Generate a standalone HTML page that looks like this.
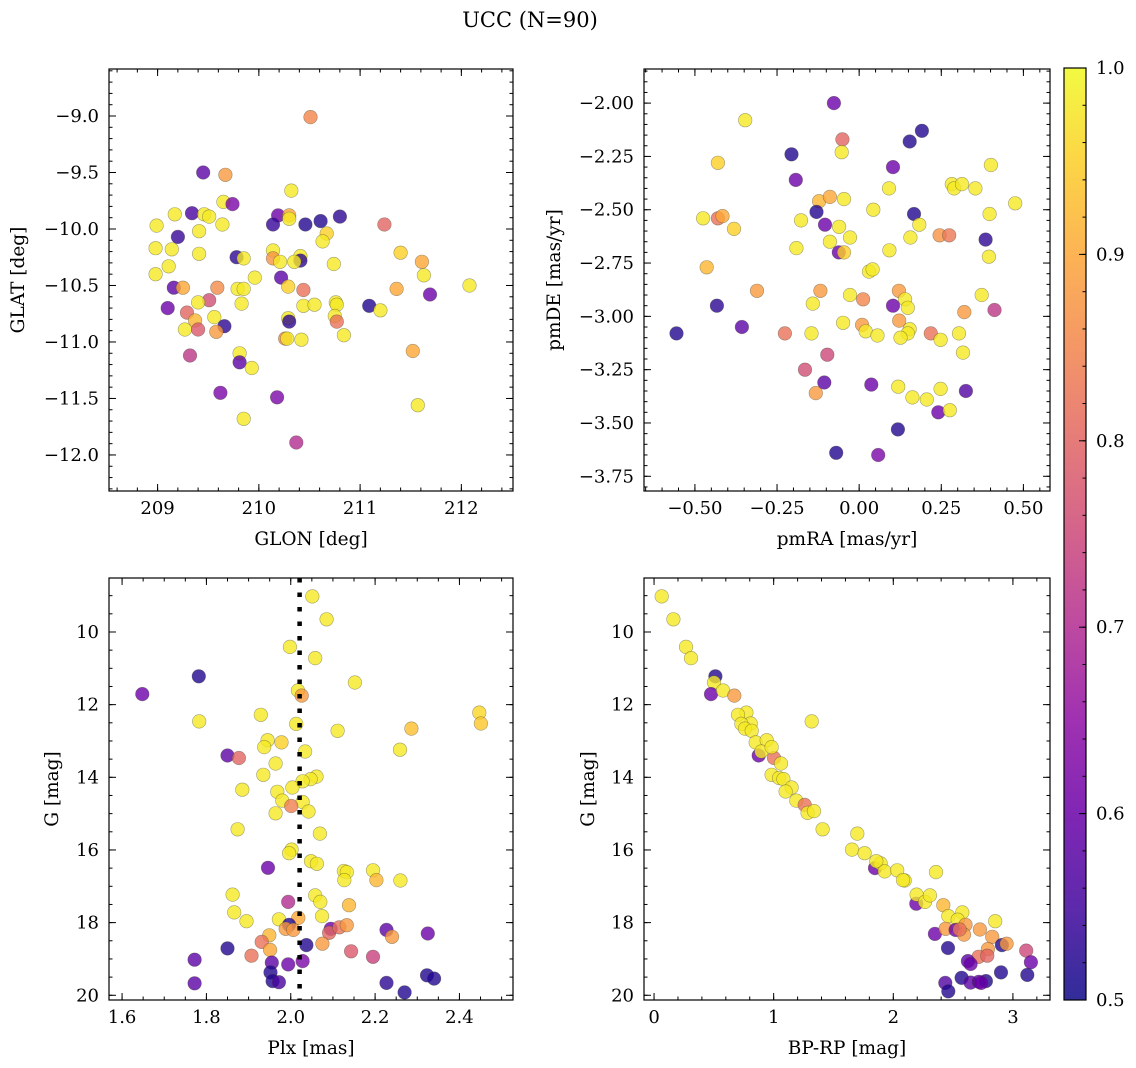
<!DOCTYPE html>
<html><head><meta charset="utf-8"><title>UCC (N=90)</title>
<style>
html,body{margin:0;padding:0;background:#fff;}
svg{display:block;font-family:"DejaVu Serif","Liberation Serif",serif;}
</style></head>
<body>
<svg id="fig" width="1136" height="1068" viewBox="0 0 1136 1068" xmlns="http://www.w3.org/2000/svg">
<defs>
<linearGradient id="plasma" x1="0" y1="1" x2="0" y2="0">
<stop offset="0" stop-color="#0d0887"/><stop offset="0.1" stop-color="#41049d"/><stop offset="0.2" stop-color="#6a00a8"/><stop offset="0.3" stop-color="#8f0da4"/><stop offset="0.4" stop-color="#b12a90"/><stop offset="0.5" stop-color="#cc4778"/><stop offset="0.6" stop-color="#e16462"/><stop offset="0.7" stop-color="#f2844b"/><stop offset="0.8" stop-color="#fca636"/><stop offset="0.9" stop-color="#fcce25"/><stop offset="1" stop-color="#f0f921"/>
</linearGradient>
</defs>
<text x="530" y="27" font-size="21" text-anchor="middle">UCC (N=90)</text>
</svg>
<script>
// Panel 1: GLON / GLAT / probability
const glon1=[210.51,209.45,209.67,210.32,209.65,209.74,209.17,209.34,209.46,209.51,210.19,210.30,210.30,210.14,210.46,210.61,210.80,211.24,208.99,209.64,209.41,210.67,209.20,210.63,208.98,209.14,210.14,211.40,209.41,209.78,209.85,210.14,210.21,210.41,210.41,210.35,211.61,210.74,209.11,208.98,211.63,209.96,210.22,209.16,209.25,209.59,209.79,209.85,210.29,210.44,212.08,211.36,211.69,209.51,209.40,209.83,210.44,210.55,210.76,210.77,211.09,211.20,209.10,209.29,209.56,209.37,210.29,210.30,210.75,210.77,209.66,209.27,209.40,209.58,210.84,210.26,210.28,210.42,211.52,209.32,209.81,209.81,209.93,209.62,210.18,211.57,209.85,210.37];
const glat1=[-9.01,-9.50,-9.52,-9.66,-9.76,-9.78,-9.87,-9.86,-9.87,-9.89,-9.88,-9.88,-9.91,-9.96,-9.96,-9.93,-9.89,-9.96,-9.97,-9.96,-10.02,-10.04,-10.07,-10.11,-10.17,-10.18,-10.19,-10.21,-10.22,-10.25,-10.26,-10.26,-10.29,-10.24,-10.28,-10.29,-10.29,-10.31,-10.33,-10.40,-10.41,-10.43,-10.43,-10.52,-10.52,-10.52,-10.53,-10.53,-10.51,-10.54,-10.50,-10.53,-10.58,-10.63,-10.65,-10.66,-10.68,-10.67,-10.65,-10.67,-10.68,-10.72,-10.70,-10.74,-10.78,-10.81,-10.79,-10.82,-10.77,-10.82,-10.86,-10.89,-10.89,-10.91,-10.94,-10.97,-10.97,-10.98,-11.08,-11.12,-11.10,-11.18,-11.23,-11.45,-11.49,-11.56,-11.68,-11.89];
const prob1=[0.85,0.58,0.88,0.98,0.98,0.62,0.98,0.56,0.98,0.98,0.60,0.90,0.98,0.54,0.52,0.52,0.53,0.80,0.98,0.98,0.98,0.95,0.54,0.98,0.98,0.98,0.98,0.95,0.98,0.53,0.98,0.87,0.98,0.98,0.53,0.98,0.90,0.98,0.98,0.98,0.98,0.98,0.58,0.58,0.90,0.86,0.98,0.98,0.95,0.82,0.98,0.90,0.60,0.76,0.98,0.98,0.98,0.98,0.98,0.98,0.52,0.98,0.60,0.80,0.98,0.92,0.98,0.53,0.98,0.82,0.53,0.98,0.78,0.88,0.98,0.85,0.98,0.98,0.90,0.72,0.98,0.58,0.98,0.62,0.62,0.98,0.98,0.70];
// Panel 2: pmRA / pmDE / probability
const pmra2=[-0.077,-0.347,-0.051,0.191,0.154,-0.053,-0.206,-0.430,0.103,0.401,-0.193,0.091,0.282,0.289,0.313,0.354,-0.122,-0.089,-0.046,0.043,0.475,-0.475,-0.430,-0.416,-0.130,-0.177,0.167,0.397,-0.104,-0.061,0.183,-0.381,0.156,0.245,0.274,0.385,-0.028,-0.089,-0.191,0.092,-0.062,-0.046,0.395,-0.464,0.030,0.041,-0.311,-0.118,0.121,-0.028,0.012,0.140,0.373,-0.141,0.103,0.148,0.412,-0.433,0.320,-0.357,-0.049,0.009,0.122,0.020,0.056,0.154,0.148,0.126,0.218,0.248,0.304,-0.556,-0.226,-0.145,0.316,-0.097,-0.165,-0.106,-0.132,0.037,0.119,0.162,0.206,0.248,0.325,0.241,0.276,0.118,-0.070,0.058];
const pmde2=[-2.00,-2.08,-2.17,-2.13,-2.18,-2.23,-2.24,-2.28,-2.30,-2.29,-2.36,-2.40,-2.38,-2.40,-2.38,-2.40,-2.46,-2.44,-2.45,-2.50,-2.47,-2.54,-2.54,-2.53,-2.51,-2.55,-2.52,-2.52,-2.57,-2.58,-2.57,-2.59,-2.63,-2.62,-2.62,-2.64,-2.63,-2.65,-2.68,-2.69,-2.70,-2.70,-2.72,-2.77,-2.79,-2.78,-2.88,-2.88,-2.88,-2.90,-2.92,-2.92,-2.90,-2.94,-2.95,-2.96,-2.97,-2.95,-2.98,-3.05,-3.03,-3.04,-3.02,-3.07,-3.09,-3.06,-3.08,-3.10,-3.08,-3.11,-3.08,-3.08,-3.08,-3.08,-3.17,-3.18,-3.25,-3.31,-3.36,-3.32,-3.33,-3.38,-3.39,-3.34,-3.35,-3.45,-3.44,-3.53,-3.64,-3.65];
const prob2=[0.60,0.98,0.80,0.52,0.52,0.98,0.52,0.95,0.60,0.98,0.60,0.98,0.98,0.98,0.98,0.98,0.92,0.90,0.98,0.98,0.98,0.98,0.82,0.90,0.52,0.98,0.52,0.98,0.60,0.98,0.98,0.95,0.98,0.87,0.83,0.53,0.98,0.98,0.98,0.98,0.60,0.95,0.98,0.92,0.98,0.98,0.88,0.88,0.88,0.98,0.85,0.98,0.98,0.98,0.60,0.98,0.72,0.53,0.88,0.58,0.98,0.88,0.88,0.98,0.98,0.98,0.98,0.98,0.82,0.98,0.98,0.52,0.82,0.98,0.98,0.75,0.76,0.58,0.88,0.60,0.98,0.98,0.98,0.98,0.57,0.60,0.98,0.52,0.52,0.62];
// Panel 3: Plx / G / probability
const plx3=[2.051,2.085,1.998,2.058,1.782,2.152,1.648,2.017,2.026,2.447,2.451,1.929,1.783,2.013,2.111,2.286,1.945,1.978,1.937,2.034,2.259,1.850,1.877,1.964,1.935,2.061,2.047,2.028,1.885,2.004,1.968,1.980,2.028,2.001,1.964,2.042,1.874,2.069,2.002,1.996,1.946,2.048,2.062,2.126,2.133,2.127,2.195,2.203,2.260,1.862,2.058,2.070,1.994,2.138,1.866,1.895,2.074,1.972,2.018,1.996,1.988,2.006,2.095,2.091,2.115,2.133,2.227,2.240,2.325,1.949,1.931,1.951,1.850,2.037,2.075,1.907,2.143,2.195,1.772,1.955,1.994,2.028,1.952,1.957,1.972,1.772,2.227,2.323,2.340,2.270];
const g3=[9.02,9.65,10.41,10.72,11.22,11.39,11.71,11.61,11.75,12.22,12.52,12.28,12.46,12.53,12.72,12.66,12.98,13.04,13.17,13.29,13.24,13.40,13.47,13.62,13.93,13.98,14.05,14.11,14.34,14.28,14.40,14.64,14.68,14.79,14.99,14.94,15.43,15.55,15.99,16.09,16.49,16.31,16.38,16.58,16.61,16.83,16.56,16.83,16.84,17.23,17.25,17.43,17.43,17.52,17.72,17.96,17.82,17.91,17.87,18.06,18.17,18.20,18.17,18.28,18.13,18.07,18.20,18.39,18.30,18.35,18.53,18.75,18.71,18.62,18.58,18.91,18.79,18.94,19.02,19.10,19.15,19.06,19.37,19.61,19.64,19.67,19.66,19.45,19.54,19.92];
const prob3=[0.98,0.98,0.98,0.98,0.52,0.98,0.60,0.98,0.88,0.96,0.94,0.98,0.98,0.98,0.98,0.93,0.98,0.95,0.98,0.98,0.98,0.58,0.80,0.98,0.98,0.98,0.98,0.98,0.98,0.98,0.98,0.98,0.98,0.84,0.98,0.98,0.98,0.98,0.98,0.98,0.60,0.98,0.98,0.98,0.98,0.98,0.98,0.92,0.98,0.98,0.98,0.98,0.70,0.92,0.98,0.98,0.98,0.98,0.90,0.52,0.88,0.88,0.60,0.80,0.82,0.88,0.58,0.88,0.60,0.92,0.82,0.90,0.52,0.52,0.88,0.82,0.78,0.74,0.58,0.58,0.60,0.62,0.52,0.52,0.56,0.58,0.53,0.52,0.52,0.52];
// Panel 4: BP-RP / G / probability
const bprp4=[0.064,0.162,0.267,0.309,0.513,0.501,0.476,0.577,0.671,1.318,0.772,0.702,0.808,0.730,0.760,0.816,0.850,0.942,0.875,1.003,0.897,0.983,1.061,0.983,1.045,1.081,1.150,1.100,1.189,1.259,1.284,1.337,1.409,1.699,1.655,1.760,1.847,1.894,1.858,1.928,2.033,2.095,2.081,2.357,2.192,2.195,2.265,2.306,2.418,2.460,2.577,2.538,2.348,2.437,2.521,2.604,2.591,2.554,2.852,2.724,2.827,2.908,2.947,2.457,2.791,2.713,2.786,2.624,2.646,3.111,3.150,2.900,3.120,2.571,2.435,2.646,2.716,2.774,2.460,2.735];
const g4=[9.02,9.65,10.41,10.72,11.22,11.39,11.71,11.61,11.75,12.46,12.22,12.28,12.52,12.53,12.66,12.72,13.04,12.98,13.40,13.47,13.29,13.17,13.62,13.93,14.02,14.05,14.28,14.39,14.64,14.76,14.98,14.93,15.43,15.55,15.99,16.09,16.50,16.37,16.31,16.59,16.56,16.84,16.83,16.61,17.48,17.23,17.43,17.25,17.52,17.82,17.72,17.92,18.31,18.17,18.20,18.06,18.33,18.19,17.96,18.19,18.39,18.62,18.58,18.70,18.73,18.94,18.91,19.06,19.14,18.77,19.09,19.37,19.44,19.52,19.66,19.65,19.63,19.61,19.89,19.66];
const prob4=[0.98,0.98,0.98,0.98,0.52,0.98,0.60,0.98,0.88,0.98,0.98,0.98,0.98,0.98,0.98,0.98,0.98,0.98,0.60,0.82,0.98,0.98,0.98,0.98,0.98,0.98,0.98,0.98,0.98,0.82,0.98,0.98,0.98,0.98,0.98,0.98,0.60,0.98,0.98,0.98,0.98,0.98,0.98,0.98,0.60,0.98,0.98,0.98,0.92,0.98,0.98,0.98,0.60,0.88,0.60,0.88,0.88,0.82,0.98,0.88,0.88,0.52,0.88,0.52,0.88,0.82,0.80,0.58,0.60,0.75,0.60,0.52,0.52,0.52,0.57,0.58,0.58,0.52,0.52,0.60];
const plxLine=[2.021];
const cbarTicks=[0.5,0.6,0.7,0.8,0.9,1.0];

const NS='http://www.w3.org/2000/svg';
const svg=document.getElementById('fig');
const stops=[[13,8,135],[65,4,157],[106,0,168],[143,13,164],[177,42,144],[204,71,120],[225,100,98],[242,132,75],[252,166,54],[252,206,37],[240,249,33]];
function plasma(p){let t=Math.max(0,Math.min(1,(p-0.5)/0.5))*10;let i=Math.min(9,Math.floor(t));let f=t-i;const a=stops[i],b=stops[i+1];return 'rgb('+a.map((v,k)=>Math.round(v+(b[k]-v)*f)).join(',')+')';}
function mk(tag,attrs,parent){const e=document.createElementNS(NS,tag);for(const k in attrs)e.setAttribute(k,attrs[k]);(parent||svg).appendChild(e);return e;}
function fmt(v,d){const s=Math.abs(v).toFixed(d);return (v< -1e-9?'\u2212':'')+s;}

function panel(cfg){
  const g=mk('g',{});
  
  
  const sx=v=>cfg.x0+(v-cfg.xmin)/(cfg.xmax-cfg.xmin)*(cfg.x1-cfg.x0);
  const sy=cfg.yinv?(v=>cfg.y0+(v-cfg.ymin)/(cfg.ymax-cfg.ymin)*(cfg.y1-cfg.y0)):(v=>cfg.y1-(v-cfg.ymin)/(cfg.ymax-cfg.ymin)*(cfg.y1-cfg.y0));
  const pg=mk('g',{},g);
  
  
  for(let i=0;i<cfg.xs.length;i++){
    const c=mk('circle',{cx:sx(cfg.xs[i]).toFixed(1),cy:sy(cfg.ys[i]).toFixed(1),r:6.8,fill:plasma(cfg.ps[i]),'fill-opacity':0.8,stroke:'rgba(60,60,40,0.45)','stroke-width':0.6},pg);
    
    
  }
  if(cfg.vline){
    const X=sx(cfg.vline[0]);
    const l=mk('line',{x1:X,x2:X,y1:cfg.y0,y2:cfg.y1,stroke:'#000','stroke-width':4.5,'stroke-dasharray':'4.5 10'},g);
    
    
  }
  const tk=mk('g',{stroke:'#000','stroke-width':1},g);
  
  
  function range(a,b,s){const out=[];const n0=Math.ceil(a/s-1e-6),n1=Math.floor(b/s+1e-6);for(let n=n0;n<=n1;n++)out.push(n*s);return out;}
  range(cfg.xmin,cfg.xmax,cfg.xminor).forEach(v=>{const X=sx(v);mk('line',{x1:X,x2:X,y1:cfg.y1,y2:cfg.y1-3.5},tk);mk('line',{x1:X,x2:X,y1:cfg.y0,y2:cfg.y0+3.5},tk);});
  range(cfg.ymin,cfg.ymax,cfg.yminor).forEach(v=>{const Y=sy(v);mk('line',{x1:cfg.x0,x2:cfg.x0+3.5,y1:Y,y2:Y},tk);mk('line',{x1:cfg.x1,x2:cfg.x1-3.5,y1:Y,y2:Y},tk);});
  range(cfg.xmin,cfg.xmax,cfg.xmajor).forEach(v=>{const X=sx(v);mk('line',{x1:X,x2:X,y1:cfg.y1,y2:cfg.y1-7},tk);mk('line',{x1:X,x2:X,y1:cfg.y0,y2:cfg.y0+7},tk);
    const t=mk('text',{x:X,y:cfg.y1+23,'font-size':18,'text-anchor':'middle'},g);t.textContent=fmt(v,cfg.xdec);
    
    });
  range(cfg.ymin,cfg.ymax,cfg.ymajor).forEach(v=>{const Y=sy(v);mk('line',{x1:cfg.x0,x2:cfg.x0+7,y1:Y,y2:Y},tk);mk('line',{x1:cfg.x1,x2:cfg.x1-7,y1:Y,y2:Y},tk);
    const t=mk('text',{x:cfg.x0-10,y:Y+6,'font-size':18,'text-anchor':'end'},g);t.textContent=fmt(v,cfg.ydec);
    
    });
  const fr=mk('rect',{x:cfg.x0,y:cfg.y0,width:cfg.x1-cfg.x0,height:cfg.y1-cfg.y0,fill:'none',stroke:'#000','stroke-width':1.2},g);
  
  
  const xl=mk('text',{x:(cfg.x0+cfg.x1)/2,y:cfg.y1+54,'font-size':18.5,'text-anchor':'middle'},g);xl.textContent=cfg.xlabel;
  
  
  const yx=cfg.ylx, yc=(cfg.y0+cfg.y1)/2;
  const yl=mk('text',{x:yx,y:yc,'font-size':18.5,'text-anchor':'middle',transform:'rotate(-90 '+yx+' '+yc+')'},g);yl.textContent=cfg.ylabel;
  
  
}

panel({name:'glon-glat-panel',x0:109,x1:513,y0:69,y1:491,xmin:208.52,xmax:212.51,ymin:-12.319,ymax:-8.584,xmajor:1,xminor:0.2,ymajor:0.5,yminor:0.1,xdec:0,ydec:1,xs:glon1,ys:glat1,ps:prob1,xlabel:'GLON [deg]',ylabel:'GLAT [deg]',ylx:24});
panel({name:'pm-panel',x0:644,x1:1050,y0:69,y1:491,xmin:-0.655,xmax:0.581,ymin:-3.819,ymax:-1.84,xmajor:0.25,xminor:0.05,ymajor:0.25,yminor:0.05,xdec:2,ydec:2,xs:pmra2,ys:pmde2,ps:prob2,xlabel:'pmRA [mas/yr]',ylabel:'pmDE [mas/yr]',ylx:560});
panel({name:'plx-g-panel',x0:109,x1:513,y0:578,y1:1000,xmin:1.569,xmax:2.527,ymin:8.514,ymax:20.13,yinv:true,xmajor:0.2,xminor:0.05,ymajor:2,yminor:0.5,xdec:1,ydec:0,xs:plx3,ys:g3,ps:prob3,xlabel:'Plx [mas]',ylabel:'G [mag]',ylx:58,vline:plxLine});
panel({name:'cmd-panel',x0:644,x1:1050,y0:578,y1:1000,xmin:-0.084,xmax:3.31,ymin:8.514,ymax:20.13,yinv:true,xmajor:1,xminor:0.2,ymajor:2,yminor:0.5,xdec:0,ydec:0,xs:bprp4,ys:g4,ps:prob4,xlabel:'BP-RP [mag]',ylabel:'G [mag]',ylx:594});

const cb=mk('g',{});


const cy0=68,cy1=1000,cx0=1064,cx1=1086;
const cbar=mk('rect',{x:cx0,y:cy0,width:cx1-cx0,height:cy1-cy0,fill:'url(#plasma)','fill-opacity':0.85,stroke:'#000','stroke-width':1.2},cb);


const cyv=v=>cy1-(v-0.5)/0.5*(cy1-cy0);
for(let n=25;n<=50;n++){const v=n*0.02;const Y=cyv(v);mk('line',{x1:cx1,x2:cx1-3.5,y1:Y,y2:Y,stroke:'#000','stroke-width':1},cb);}
cbarTicks.forEach(v=>{const Y=cyv(v);mk('line',{x1:cx1,x2:cx1-7,y1:Y,y2:Y,stroke:'#000','stroke-width':1},cb);
  const t=mk('text',{x:1096,y:Y+6,'font-size':18},cb);t.textContent=v.toFixed(1);
  
  });
</script>
</body></html>
